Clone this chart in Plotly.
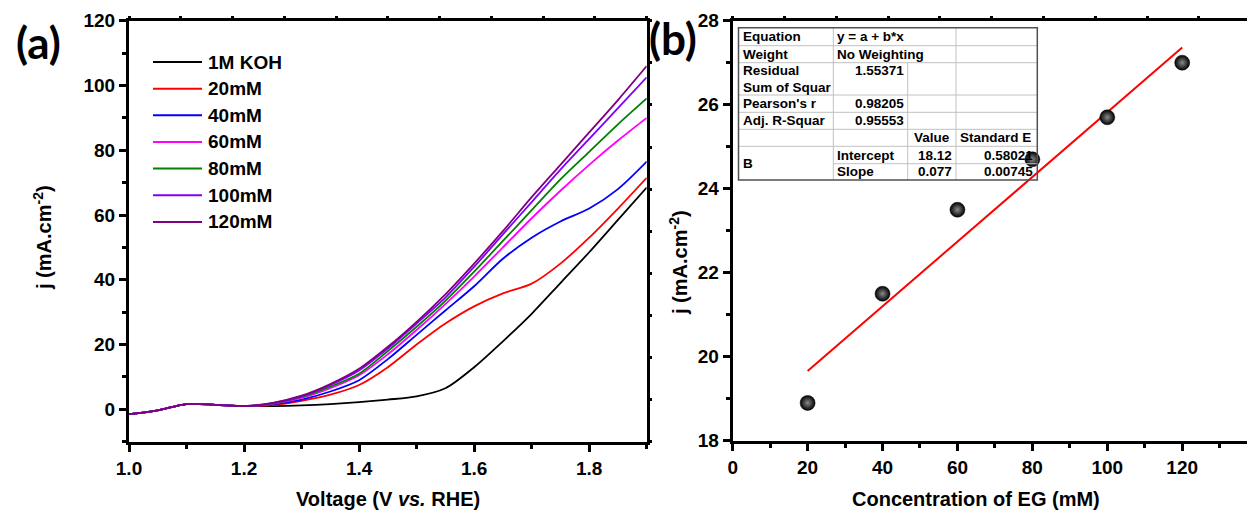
import numpy as np
import plotly.graph_objects as go

# ---------------- data: panel (a) LSV curves ----------------
voltage = [1.00, 1.05, 1.10, 1.15, 1.20, 1.25, 1.30, 1.35, 1.40, 1.45,
           1.50, 1.55, 1.60, 1.65, 1.70, 1.75, 1.80, 1.85, 1.90]

series_names = ["1M KOH", "20mM", "40mM", "60mM", "80mM", "100mM", "120mM"]
series_colors = ["#000000", "#ff0000", "#0000ff", "#ff00ff", "#008000", "#8000ff", "#800080"]

j_koh = [-1.5, -0.3, 1.6, 1.4, 1.0, 1.0, 1.2, 1.6, 2.2, 3.0, 4.0, 6.5, 13.0, 21.0, 29.5, 39.0, 48.5, 58.5, 68.5]
j_20 = [-1.5, -0.3, 1.6, 1.4, 1.0, 1.3, 2.6, 4.5, 7.5, 13.0, 20.0, 26.5, 31.8, 35.8, 38.8, 45.0, 53.0, 62.0, 71.5]
j_40 = [-1.5, -0.3, 1.6, 1.4, 1.0, 1.5, 3.0, 5.5, 9.0, 15.5, 23.0, 30.5, 38.0, 46.5, 53.0, 58.0, 62.0, 68.0, 76.5]
j_60 = [-1.5, -0.3, 1.6, 1.4, 1.0, 1.7, 3.5, 6.5, 10.5, 17.0, 24.5, 32.5, 41.0, 50.0, 59.0, 67.5, 75.5, 83.0, 90.0]
j_80 = [-1.5, -0.3, 1.6, 1.4, 1.0, 1.8, 3.8, 7.0, 11.0, 18.0, 25.5, 33.5, 42.5, 52.0, 61.5, 71.0, 79.5, 88.0, 96.0]
j_100 = [-1.5, -0.3, 1.6, 1.4, 1.0, 1.9, 4.0, 7.5, 12.0, 18.8, 26.5, 34.5, 44.0, 54.0, 64.0, 74.0, 83.5, 93.0, 102.5]
j_120 = [-1.5, -0.3, 1.6, 1.4, 1.0, 2.0, 4.2, 7.8, 12.5, 19.3, 27.0, 35.5, 45.0, 55.0, 65.5, 75.5, 85.5, 95.5, 106.0]
series_values = [j_koh, j_20, j_40, j_60, j_80, j_100, j_120]

x_ticks_a = [1.0, 1.2, 1.4, 1.6, 1.8]
y_ticks_a = [0, 20, 40, 60, 80, 100, 120]

# ---------------- data: panel (b) current vs EG concentration ----------------
conc_eg = [20, 40, 60, 80, 100, 120]
j_eg = [18.9, 21.5, 23.5, 24.7, 25.7, 27.0]
fit_intercept = 18.12
fit_slope = 0.077

x_ticks_b = [0, 20, 40, 60, 80, 100, 120]
y_ticks_b = [18, 20, 22, 24, 26, 28]

# linear-fit report table (rows of cell text)
fit_labels = ["Equation", "Weight", "Residual", "Sum of Squar", "Pearson's r", "Adj. R-Squar"]
fit_values = ["y = a + b*x", "No Weighting", "1.55371", "0.98205", "0.95553"]
param_header = ["Value", "Standard E"]
param_names = ["Intercept", "Slope"]
param_values = ["18.12", "0.077"]
param_errors = ["0.58021", "0.00745"]

# ---------------- page geometry helpers ----------------
W, H = 1247, 514


def px(x):
    return x / W


def py(y):
    return 1 - y / H


FONT = "Liberation Sans, Arial, sans-serif"
AX = dict(color="black", family=FONT, size=19, weight="bold")

fig = go.Figure()

for name, color, vals in zip(series_names, series_colors, series_values):
    fig.add_trace(go.Scatter(x=voltage, y=vals, mode="lines", name=name,
                             line=dict(color=color, width=1.8, shape="spline", smoothing=0.8),
                             xaxis="x", yaxis="y", showlegend=False))

# empty traces so the mirrored tick axes get drawn
fig.add_trace(go.Scatter(x=[], y=[], xaxis="x3", yaxis="y", showlegend=False))
fig.add_trace(go.Scatter(x=[], y=[], xaxis="x", yaxis="y3", showlegend=False))
fig.add_trace(go.Scatter(x=[], y=[], xaxis="x4", yaxis="y2", showlegend=False))

# panel (b): fit line and data points
x_fit = np.array([min(conc_eg), max(conc_eg)], dtype=float)
y_fit = fit_intercept + fit_slope * x_fit
fig.add_trace(go.Scatter(x=x_fit, y=y_fit, mode="lines", line=dict(color="#ff0000", width=2),
                         xaxis="x2", yaxis="y2", showlegend=False))
fig.add_trace(go.Scatter(x=conc_eg, y=j_eg, mode="markers",
                         marker=dict(size=15, color="#000000",
                                     gradient=dict(type="radial", color="#8a8a8a"),
                                     line=dict(width=0.5, color="black")),
                         xaxis="x2", yaxis="y2", showlegend=False))

dom_a_x = [px(129), px(646.7)]
dom_b_x = [px(732.7), 1.0]
dom_y_a = [py(441.7), py(20.7)]
dom_y_b = [py(440.7), py(20.7)]

common = dict(showgrid=False, zeroline=False, showline=True, linecolor="black", linewidth=3,
              ticks="outside", ticklen=7, tickwidth=2.5, tickcolor="black", tickfont=AX,
              automargin=False)
mirror_ticks = dict(showticklabels=False, showgrid=False, zeroline=False, showline=False,
                    ticks="outside", ticklen=4, tickwidth=2.5, tickcolor="black", automargin=False)

fig.update_layout(
    width=W, height=H, margin=dict(l=0, r=0, t=0, b=0, autoexpand=False),
    paper_bgcolor="white", plot_bgcolor="white", showlegend=False,
    xaxis=dict(domain=dom_a_x, range=[1.0, 1.9], anchor="y", tickvals=x_ticks_a,
               ticktext=[f"{v:.1f}" for v in x_ticks_a], mirror=True,
               minor=dict(dtick=0.1, tick0=1.0, ticks="outside", ticklen=4, tickwidth=2.5, tickcolor="black"),
               **common),
    yaxis=dict(domain=dom_y_a, range=[-10, 120], anchor="x", tickvals=y_ticks_a, mirror=True,
               minor=dict(dtick=10, tick0=0, ticks="outside", ticklen=4, tickwidth=2.5, tickcolor="black"),
               **common),
    xaxis3=dict(overlaying="x", anchor="y", side="top", range=[0, 10], dtick=1, tick0=0, **mirror_ticks),
    yaxis3=dict(overlaying="y", anchor="x", side="right", range=[0, 10], dtick=1, tick0=0, **mirror_ticks),
    xaxis2=dict(domain=dom_b_x, range=[0, 137.3], anchor="y2", tickvals=x_ticks_b, mirror=True,
                minor=dict(dtick=10, tick0=0, ticks="outside", ticklen=4, tickwidth=2.5, tickcolor="black"),
                **common),
    yaxis2=dict(domain=dom_y_b, range=[18, 28], anchor="x2", tickvals=y_ticks_b,
                minor=dict(dtick=1, tick0=18, ticks="outside", ticklen=4, tickwidth=2.5, tickcolor="black"),
                **common),
    xaxis4=dict(overlaying="x2", anchor="y2", side="top", range=[0, (W - 732.7) / 51.8], dtick=1, tick0=0,
                **mirror_ticks),
)

annotations = []
shapes = []


def label(text, x, y, font, angle=0, xanchor="center"):
    annotations.append(dict(text=text, x=px(x), y=py(y), xref="paper", yref="paper", showarrow=False,
                            xanchor=xanchor, yanchor="middle", textangle=angle, font=font, borderpad=0))


# panel letters
LETTER = dict(family="Lato, Open Sans, sans-serif", size=44, weight="bold", color="black")
label("(a)", 38, 42, LETTER)
label("(b)", 673, 38, LETTER)

# axis titles
TITLE = dict(family=FONT, size=20, weight="bold", color="black")
label("Voltage (V <i>vs.</i> RHE)", 388, 499, TITLE)
label("Concentration of EG (mM)", 976, 499, TITLE)
label("j (mA.cm<sup>-2</sup>)", 42, 238, TITLE, angle=-90)
label("j (mA.cm<sup>-2</sup>)", 678, 263, TITLE, angle=-90)

# legend for panel (a)
leg_y0, leg_dy = 62, 26.65
LEG = dict(family=FONT, size=19, weight="bold", color="black")
for i, (name, color) in enumerate(zip(series_names, series_colors)):
    yy = leg_y0 + i * leg_dy
    shapes.append(dict(type="line", xref="paper", yref="paper", x0=px(153), x1=px(202), y0=py(yy), y1=py(yy),
                       line=dict(color=color, width=2)))
    label(name, 207, yy, LEG, xanchor="left")

# fit report table
tx0, tx1 = 738.5, 1037.3
c1, c2, c3 = 833.3, 907.7, 956.0
ty0, ty1 = 27.7, 180.0
rows = [45.7, 62.7, 95.0, 112.3, 129.3, 146.3]
grid = dict(color="#c0c0c0", width=1)
for r in rows:
    shapes.append(dict(type="line", xref="paper", yref="paper", x0=px(tx0), x1=px(tx1), y0=py(r), y1=py(r), line=grid))
shapes.append(dict(type="line", xref="paper", yref="paper", x0=px(c1), x1=px(tx1), y0=py(163.7), y1=py(163.7), line=grid))
shapes.append(dict(type="line", xref="paper", yref="paper", x0=px(c1), x1=px(c1), y0=py(ty0), y1=py(ty1), line=grid))
shapes.append(dict(type="line", xref="paper", yref="paper", x0=px(c2), x1=px(c2), y0=py(62.7), y1=py(ty1), line=grid))
shapes.append(dict(type="line", xref="paper", yref="paper", x0=px(c3), x1=px(c3), y0=py(ty0), y1=py(ty1), line=grid))
shapes.append(dict(type="rect", xref="paper", yref="paper", x0=px(tx0), x1=px(tx1), y0=py(ty1), y1=py(ty0),
                   line=dict(color="#505050", width=1.5), fillcolor="rgba(0,0,0,0)"))

TF = dict(family=FONT, size=13.5, weight="bold", color="black")


def cell(text, x, y, anchor="left"):
    label(text, x, y, TF, xanchor=anchor)


label_y = [36.7, 54.2, 70.5, 87.0, 103.7, 120.8]
for lab, yy in zip(fit_labels, label_y):
    cell(lab, tx0 + 3, yy)
cell(fit_values[0], c1 + 3, label_y[0])
cell(fit_values[1], c1 + 3, label_y[1])
cell(fit_values[2], c2 - 3, label_y[2], "right")
cell(fit_values[3], c2 - 3, label_y[4], "right")
cell(fit_values[4], c2 - 3, label_y[5], "right")
cell(param_header[0], (c2 + c3) / 2, 137.8, "center")
cell(param_header[1], c3 + 3, 137.8)
cell("B", tx0 + 3, 163.7)
for k, yy in enumerate([155.0, 171.8]):
    cell(param_names[k], c1 + 3, yy)
    cell(param_values[k], c3 - 3, yy, "right")
    cell(param_errors[k], tx1 - 3, yy, "right")

fig.update_layout(annotations=annotations, shapes=shapes)
fig.write_html("out.html")
